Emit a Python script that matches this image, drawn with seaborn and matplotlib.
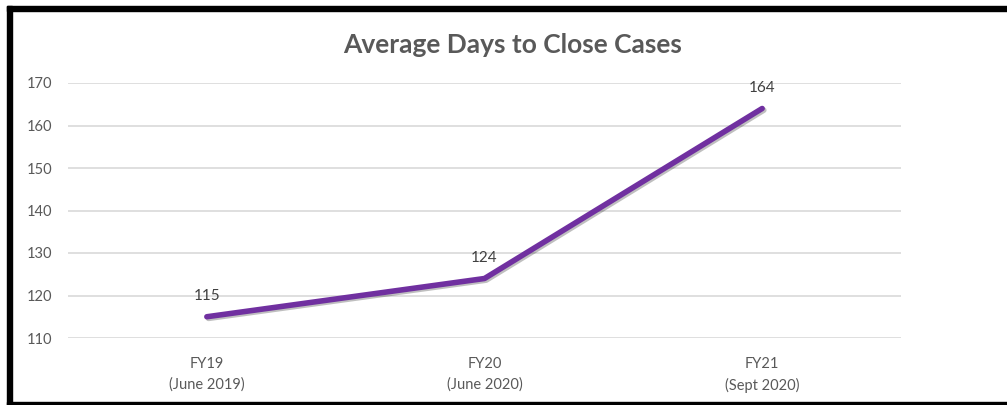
# Average Days to Close Cases - line chart

import matplotlib
matplotlib.use('Agg')
import matplotlib.pyplot as plt
import matplotlib.patheffects as pe
from matplotlib.patches import Rectangle
import seaborn as sns
import pandas as pd

# Data
categories = ['FY19\n(June 2019)', 'FY20\n(June 2020)', 'FY21\n(Sept 2020)']
avg_days = [115, 124, 164]
y_ticks = [110, 120, 130, 140, 150, 160, 170]

df = pd.DataFrame({'period': categories, 'days': avg_days})
df['pos'] = range(len(df))

sns.set_style('white')
plt.rcParams['font.family'] = ['Lato', 'DejaVu Sans']

fig = plt.figure(figsize=(10.07, 4.05), dpi=100)
ax = fig.add_axes([68 / 1007, 67 / 405, 833 / 1007, 255 / 405])

text_gray = '#595959'
purple = '#7030A0'

# line with a soft drop shadow
sns.lineplot(data=df, x='pos', y='days', ax=ax, color=purple, linewidth=4,
             path_effects=[pe.SimpleLineShadow(offset=(1.2, -1.2), shadow_color='black', alpha=0.25),
                           pe.Normal()])

# data labels
for _, row in df.iterrows():
    ax.annotate(str(row['days']), (row['pos'], row['days']), xytext=(0, 15),
                textcoords='offset points', ha='center', va='center',
                fontsize=11, color='#404040')

ax.set_xlim(-0.5, len(categories) - 0.5)
ax.set_ylim(110, 170)
ax.set_yticks(y_ticks)
ax.set_xticks(df['pos'])
ax.set_xticklabels(categories, fontsize=10.5, color=text_gray, linespacing=1.5)
ax.tick_params(axis='y', labelsize=10.5, labelcolor=text_gray, length=0, pad=11)
ax.tick_params(axis='x', length=0, pad=14)
ax.yaxis.grid(True, color='#d9d9d9', linewidth=1.2)
ax.set_axisbelow(True)
for s in ax.spines.values():
    s.set_visible(False)
ax.set_xlabel('')
ax.set_ylabel('')

fig.text(513 / 1007, 1 - 45 / 405, 'Average Days to Close Cases', ha='center', va='center',
         fontsize=19, fontweight='bold', color=text_gray)

# black frame around the picture (top, left, bottom)
fig.patches.append(Rectangle((7 / 1007, 1 - 11 / 405), 1 - 7 / 1007, 5 / 405,
                             transform=fig.transFigure, color='black', zorder=10))
fig.patches.append(Rectangle((7 / 1007, 0), 5 / 1007, 1 - 6 / 405,
                             transform=fig.transFigure, color='black', zorder=10))
fig.patches.append(Rectangle((7 / 1007, 0), 1 - 7 / 1007, 3 / 405,
                             transform=fig.transFigure, color='black', zorder=10))

fig.savefig('out.png', dpi=100)
